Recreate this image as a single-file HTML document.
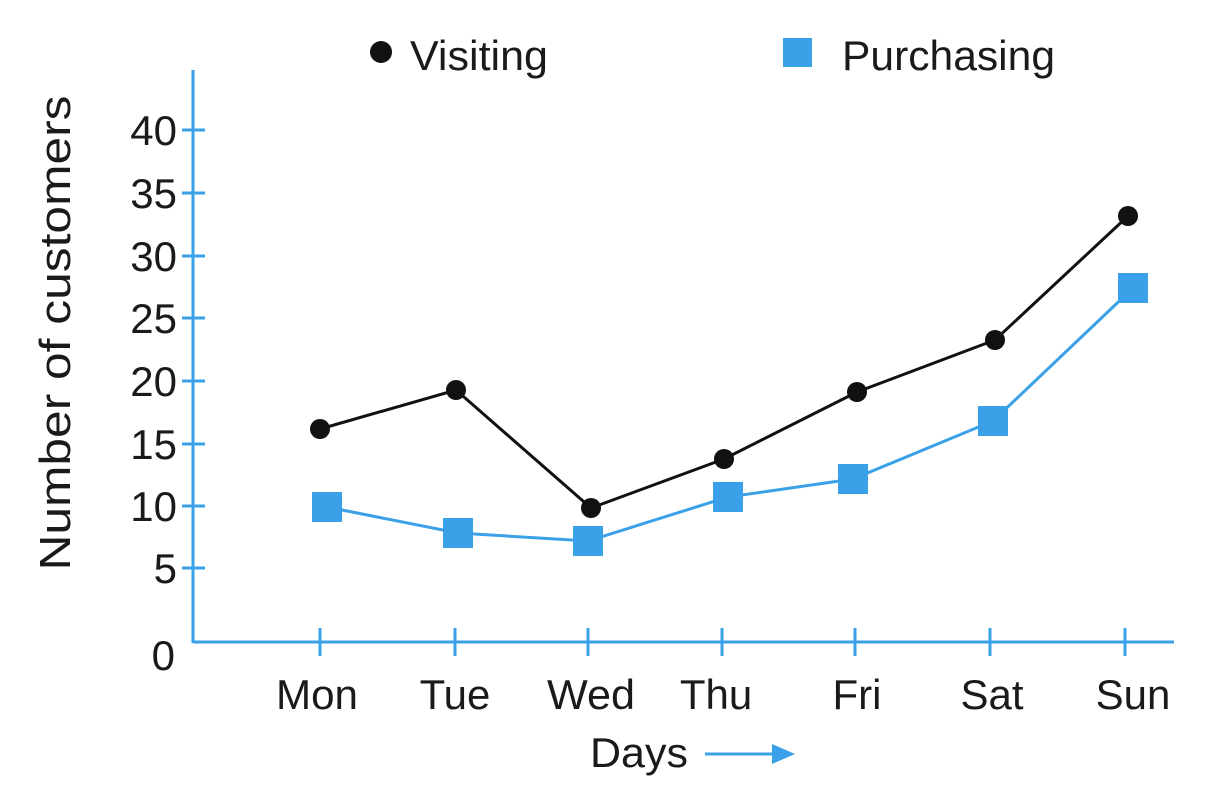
<!DOCTYPE html>
<html><head><style>
html,body{margin:0;padding:0;background:#fff;}
svg{display:block;}
text{font-family:"Liberation Sans",Arial,sans-serif;fill:#1a1a1a;}
</style></head><body>
<svg width="1206" height="802" viewBox="0 0 1206 802">
<g stroke="#3aa0e8" stroke-width="3" fill="none">
<line x1="193" y1="70" x2="193" y2="643"/>
<line x1="193" y1="642" x2="1174" y2="642"/>
<line x1="182" y1="130" x2="205" y2="130"/>
<line x1="182" y1="193" x2="205" y2="193"/>
<line x1="182" y1="256" x2="205" y2="256"/>
<line x1="182" y1="318" x2="205" y2="318"/>
<line x1="182" y1="381" x2="205" y2="381"/>
<line x1="182" y1="444" x2="205" y2="444"/>
<line x1="182" y1="506" x2="205" y2="506"/>
<line x1="182" y1="568" x2="205" y2="568"/>
<line x1="320" y1="628" x2="320" y2="656"/>
<line x1="455" y1="628" x2="455" y2="656"/>
<line x1="588" y1="628" x2="588" y2="656"/>
<line x1="722" y1="628" x2="722" y2="656"/>
<line x1="855" y1="628" x2="855" y2="656"/>
<line x1="990" y1="628" x2="990" y2="656"/>
<line x1="1125" y1="628" x2="1125" y2="656"/>
<line x1="705" y1="754" x2="780" y2="754"/>
</g>
<polygon points="795,754 772,744 772,764" fill="#3aa0e8"/>
<g font-size="42" text-anchor="end">
<text x="177" y="145">40</text><text x="177" y="208">35</text><text x="177" y="271">30</text>
<text x="177" y="333">25</text><text x="177" y="396">20</text><text x="177" y="459">15</text>
<text x="177" y="521">10</text><text x="177" y="583">5</text><text x="175" y="670">0</text>
</g>
<g font-size="42" text-anchor="middle">
<text x="317" y="709" textLength="82" lengthAdjust="spacingAndGlyphs">Mon</text>
<text x="455" y="709">Tue</text>
<text x="591" y="709" textLength="88" lengthAdjust="spacingAndGlyphs">Wed</text>
<text x="716" y="709">Thu</text><text x="857" y="709">Fri</text><text x="992" y="709">Sat</text>
<text x="1133" y="709">Sun</text>
<text x="639" y="767" textLength="98" lengthAdjust="spacingAndGlyphs">Days</text>
</g>
<text font-size="44" text-anchor="middle" textLength="475" lengthAdjust="spacingAndGlyphs" transform="translate(70,333) rotate(-90)">Number of customers</text>
<circle cx="381" cy="52" r="11" fill="#111"/>
<text x="410" y="70" font-size="42" textLength="138" lengthAdjust="spacingAndGlyphs">Visiting</text>
<rect x="783" y="38" width="29" height="29" fill="#3aa0e8"/>
<text x="842" y="70" font-size="42" textLength="213" lengthAdjust="spacingAndGlyphs">Purchasing</text>
<polyline points="327,507 458,533 588,541 728,497 853,479 993,421 1133,288" fill="none" stroke="#3aa0e8" stroke-width="3"/>
<g fill="#3aa0e8">
<rect x="312" y="492" width="30" height="30"/><rect x="443" y="518" width="30" height="30"/>
<rect x="573" y="526" width="30" height="30"/><rect x="713" y="482" width="30" height="30"/>
<rect x="838" y="464" width="30" height="30"/><rect x="978" y="406" width="30" height="30"/>
<rect x="1118" y="273" width="30" height="30"/>
</g>
<polyline points="320,429 456,390 591,508 724,459 857,392 995,340 1128,216" fill="none" stroke="#111" stroke-width="3"/>
<g fill="#111">
<circle cx="320" cy="429" r="10"/><circle cx="456" cy="390" r="10"/><circle cx="591" cy="508" r="10"/>
<circle cx="724" cy="459" r="10"/><circle cx="857" cy="392" r="10"/><circle cx="995" cy="340" r="10"/>
<circle cx="1128" cy="216" r="10"/>
</g>
</svg>
</body></html>
